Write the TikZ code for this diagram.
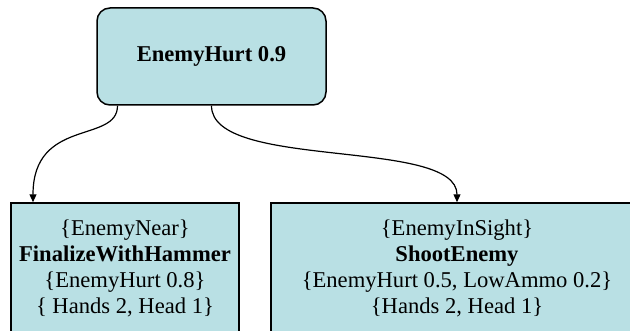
\documentclass[tikz,border=0pt]{standalone}
\usepackage{fontspec}
\setmainfont{Liberation Serif}
\newfontfamily\boxfont{Liberation Serif}
\usetikzlibrary{calc,arrows.meta}
\definecolor{nodefill}{RGB}{185,224,228}
\tikzset{goalbox/.style={draw,fill=nodefill,line width=0.75pt,rounded corners=6.5pt,
    minimum width=114.5pt,minimum height=48.5pt,inner sep=0pt,font=\boxfont\bfseries},
  actbox/.style={draw,fill=nodefill,line width=0.75pt,minimum height=65.5pt,
    inner sep=0pt,align=center,font=\boxfont},
  planedge/.style={line width=0.6pt,-{Triangle[length=4pt,width=3.5pt]}}}

\begin{document}
\begin{tikzpicture}[x=0.5pt,y=-0.5pt]
  \useasboundingbox (0,0) rectangle (630,331);
  \clip (0,0) rectangle (630,331);
  \fontsize{11.3}{12.9}\selectfont

  \node [goalbox] (hurt) at (211.5,56.5) {EnemyHurt 0.9};
  \node [actbox,minimum width=114pt] (hammer) at (125,268.5)
    {\{EnemyNear\}\\ \textbf{FinalizeWithHammer}\\ \{EnemyHurt 0.8\}\\ \{ Hands 2, Head 1\}};
  \node [actbox,minimum width=186pt] (shoot) at (457,268.5)
    {\{EnemyInSight\}\\ \textbf{ShootEnemy}\\ \{EnemyHurt 0.5, LowAmmo 0.2\}\\ \{Hands 2, Head 1\}};

  \coordinate (l0) at ($(hurt.south)+(-94,0)$);
  \coordinate (l1) at ($(hammer.north)+(-92,0)$);
  \draw [planedge] (l0) .. controls +(0,38) and +(0,-85) .. (l1);
  \draw [planedge] (hurt.south) .. controls +(0,65) and +(0,-65) .. (shoot.north);
\end{tikzpicture}
\end{document}
